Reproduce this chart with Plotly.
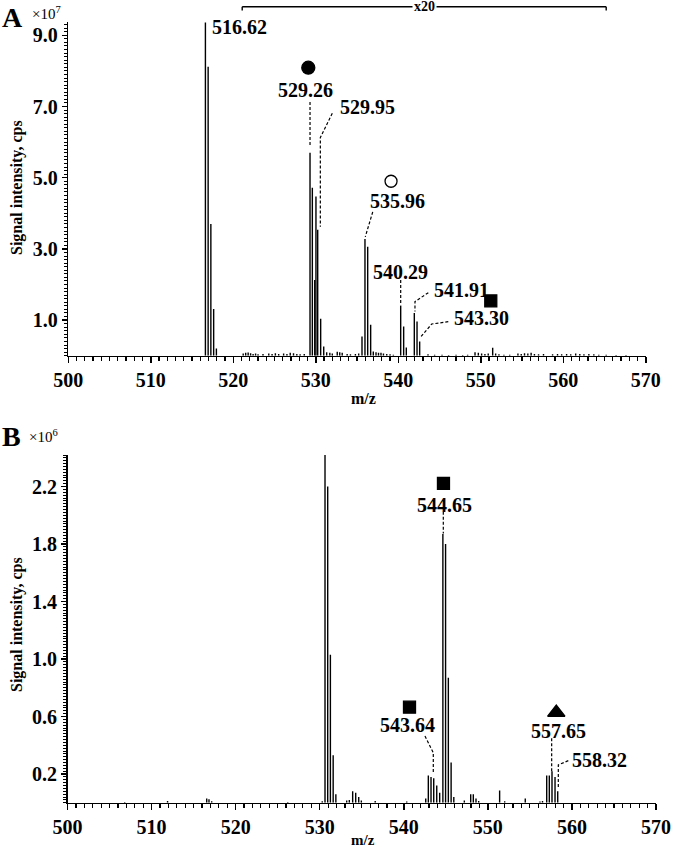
import plotly.graph_objects as go

# ---------------- Panel A data (intensity shown in units of 1e7 cps) ----------------
a_mz = [516.62, 516.95, 517.28, 517.62, 517.95,
        529.30, 529.58, 529.87, 530.02, 530.23, 530.59, 530.96, 531.32,
        535.60, 535.96, 536.29, 536.65, 536.97,
        540.29, 540.65, 540.97,
        541.94, 542.27, 542.59,
        551.44]
a_int = [9.36, 8.12, 3.70, 1.31, 0.20,
         5.70, 4.72, 2.13, 4.47, 3.54, 1.04, 0.26, 0.10,
         0.54, 3.28, 3.06, 0.87, 0.12,
         1.40, 0.82, 0.23,
         1.20, 0.96, 0.40,
         0.22]
a_noise_mz = [521.2, 521.5, 521.8, 522.1, 522.4, 522.7, 523.0, 523.6, 524.3, 524.7,
              525.1, 525.5, 526.1, 526.5, 526.9, 527.3, 527.7, 528.1, 528.6,
              531.7, 532.0, 532.6, 532.9, 533.2, 533.8, 534.2, 534.8, 535.2,
              537.3, 537.6, 537.9, 538.2, 538.6, 539.0, 539.4,
              543.6, 544.4, 545.3, 546.1, 547.0, 547.8, 548.4, 549.3, 549.7, 550.1, 550.5,
              550.9, 551.8, 552.2, 552.8, 553.5, 554.5, 554.9, 555.3, 555.7, 556.1, 556.5,
              557.0, 557.6, 558.7, 559.3, 559.8, 560.4, 560.9, 561.5, 562.0, 562.5, 563.1,
              563.7, 564.3, 565.2, 566.4, 567.6]
a_noise_int = [0.06, 0.08, 0.09, 0.07, 0.05, 0.06, 0.04, 0.05, 0.06, 0.05,
               0.07, 0.05, 0.06, 0.05, 0.08, 0.07, 0.05, 0.04, 0.05,
               0.08, 0.06, 0.11, 0.10, 0.08, 0.05, 0.04, 0.05, 0.06,
               0.10, 0.08, 0.08, 0.06, 0.05, 0.04, 0.03,
               0.04, 0.03, 0.03, 0.02, 0.03, 0.02, 0.03, 0.10, 0.08, 0.06, 0.05,
               0.06, 0.06, 0.04, 0.03, 0.03, 0.06, 0.05, 0.07, 0.06, 0.08, 0.05,
               0.04, 0.05, 0.04, 0.05, 0.04, 0.05, 0.04, 0.06, 0.05, 0.04, 0.05,
               0.04, 0.03, 0.03, 0.02, 0.02]

a_labels = ["516.62", "529.26", "529.95", "535.96", "540.29", "541.91", "543.30"]
a_label_x = [517.18, 528.80, 532.73, 539.96, 540.21, 544.05, 546.47]
a_label_y = [9.23, 7.47, 6.98, 4.35, 2.36, 1.85, 1.05]
a_label_anchor = ["left", "center", "left", "center", "center", "left", "left"]
a_leaders = [
    [(529.30, 7.13), (529.30, 5.87)],
    [(532.00, 6.81), (530.55, 6.13), (530.55, 3.62)],
    [(536.90, 4.04), (536.00, 3.34)],
    [(540.29, 2.13), (540.29, 1.42)],
    [(543.64, 1.77), (542.02, 1.52), (542.02, 1.24)],
    [(546.06, 0.955), (544.05, 0.89), (542.72, 0.53)],
]
a_sym_x = [529.09, 539.12, 551.21]
a_sym_y = [8.09, 4.90, 1.54]
a_sym = ["circle", "circle-open", "square"]
a_sym_size = [13, 12, 12]
zoom_range = [521.08, 565.2]

# ---------------- Panel B data (intensity shown in units of 1e6 cps) ----------------
b_mz = [530.63, 530.95, 531.27, 531.60, 531.92,
        542.61, 542.92, 543.24, 543.56, 543.92, 544.27,
        544.65, 544.97, 545.30, 545.63, 545.95,
        557.00, 557.31, 557.63, 557.99, 558.31,
        551.40, 554.45]
b_int = [2.42, 2.20, 1.03, 0.33, 0.06,
         0.03, 0.19, 0.18, 0.17, 0.12, 0.07,
         1.87, 1.80, 0.87, 0.28, 0.04,
         0.19, 0.19, 0.22, 0.18, 0.08,
         0.085, 0.03]
b_noise_mz = [506.8, 511.9, 516.56, 516.83, 517.15, 526.2, 530.30,
              533.21, 533.52, 533.92, 534.28, 534.64, 534.95, 536.6, 540.35,
              547.20, 547.96, 548.27, 548.59, 548.91, 552.0, 556.2, 556.5]
b_noise_int = [0.006, 0.012, 0.030, 0.025, 0.010, 0.006, 0.010,
               0.015, 0.020, 0.080, 0.070, 0.040, 0.015, 0.012, 0.008,
               0.015, 0.060, 0.060, 0.030, 0.012, 0.010, 0.008, 0.012]

b_labels = ["530.63", "544.65", "543.64", "557.65", "558.32"]
b_label_x = [530.43, 544.88, 540.42, 558.44, 559.77]
b_label_y = [2.489, 2.071, 0.541, 0.499, 0.297]
b_label_anchor = ["center", "center", "center", "center", "left"]
b_leaders = [
    [(544.70, 2.025), (544.70, 1.874)],
    [(542.52, 0.464), (543.51, 0.348), (543.51, 0.200)],
    [(557.59, 0.448), (557.59, 0.216)],
    [(559.57, 0.293), (558.38, 0.263), (558.38, 0.100)],
]
b_sym_x = [530.55, 544.72, 540.68, 558.14]
b_sym_y = [2.644, 2.222, 0.665, 0.628]
b_sym = ["circle", "square", "square", "triangle-up"]
b_sym_size = [13, 12, 12, 15]

FONT = "Liberation Serif"
W, H = 678, 849


def sticks(mz, inten):
    xs, ys = [], []
    for m, v in zip(mz, inten):
        xs += [m, m, None]
        ys += [0, v, None]
    return xs, ys


def leader_xy(leaders):
    xs, ys = [], []
    for seg in leaders:
        for (x, y) in seg:
            xs.append(x)
            ys.append(y)
        xs.append(None)
        ys.append(None)
    return xs, ys


fig = go.Figure()

for (mz, inten, nmz, nint, leaders, sx, sy, sym, ss, xa, ya) in [
    (a_mz, a_int, a_noise_mz, a_noise_int, a_leaders, a_sym_x, a_sym_y, a_sym, a_sym_size, "x", "y"),
    (b_mz, b_int, b_noise_mz, b_noise_int, b_leaders, b_sym_x, b_sym_y, b_sym, b_sym_size, "x2", "y2"),
]:
    xs, ys = sticks(nmz + mz, nint + inten)
    fig.add_trace(go.Scatter(x=xs, y=ys, mode="lines", xaxis=xa, yaxis=ya,
                             line=dict(color="black", width=1.4), hoverinfo="skip",
                             showlegend=False, cliponaxis=False))
    lx, ly = leader_xy(leaders)
    fig.add_trace(go.Scatter(x=lx, y=ly, mode="lines", xaxis=xa, yaxis=ya,
                             line=dict(color="black", width=1.2, dash="3px,2px"),
                             hoverinfo="skip", showlegend=False, cliponaxis=False))
    fig.add_trace(go.Scatter(x=sx, y=sy, mode="markers", xaxis=xa, yaxis=ya, opacity=1,
                             marker=dict(symbol=sym, size=ss, color="#000000", opacity=1,
                                         line=dict(color="#000000", width=1.3)),
                             hoverinfo="skip", showlegend=False, cliponaxis=False))

annotations = []
for labels, lxs, lys, anchors, xr, yr in [
    (a_labels, a_label_x, a_label_y, a_label_anchor, "x", "y"),
    (b_labels, b_label_x, b_label_y, b_label_anchor, "x2", "y2"),
]:
    for t, x, y, an in zip(labels, lxs, lys, anchors):
        annotations.append(dict(text=t, x=x, y=y, xref=xr, yref=yr, xanchor=an,
                                yanchor="middle", showarrow=False,
                                font=dict(family=FONT, size=20, color="black", weight="bold")))

# panel letters, exponents, axis titles
annotations += [
    dict(text="A", x=12.5 / W, y=1 - 17.5 / H, xref="paper", yref="paper", showarrow=False,
         xanchor="center", yanchor="middle",
         font=dict(family=FONT, size=28, color="black", weight="bold")),
    dict(text="B", x=11 / W, y=1 - 436.7 / H, xref="paper", yref="paper", showarrow=False,
         xanchor="center", yanchor="middle",
         font=dict(family=FONT, size=28, color="black", weight="bold")),
    dict(text="×10<sup>7</sup>", x=46 / W, y=1 - 13 / H, xref="paper", yref="paper",
         showarrow=False, xanchor="center", yanchor="middle",
         font=dict(family=FONT, size=15, color="black")),
    dict(text="×10<sup>6</sup>", x=43 / W, y=1 - 436 / H, xref="paper", yref="paper",
         showarrow=False, xanchor="center", yanchor="middle",
         font=dict(family=FONT, size=15, color="black")),
    dict(text="Signal intensity, cps", x=17 / W, y=1 - 188 / H, xref="paper", yref="paper",
         showarrow=False, textangle=-90, xanchor="center", yanchor="middle",
         font=dict(family=FONT, size=16, color="black", weight="bold")),
    dict(text="Signal intensity, cps", x=17 / W, y=1 - 625 / H, xref="paper", yref="paper",
         showarrow=False, textangle=-90, xanchor="center", yanchor="middle",
         font=dict(family=FONT, size=16, color="black", weight="bold")),
    dict(text="m/z", x=363 / W, y=1 - 398 / H, xref="paper", yref="paper", showarrow=False,
         xanchor="center", yanchor="middle",
         font=dict(family=FONT, size=16, color="black", weight="bold")),
    dict(text="m/z", x=363 / W, y=1 - 840 / H, xref="paper", yref="paper", showarrow=False,
         xanchor="center", yanchor="middle",
         font=dict(family=FONT, size=15, color="black", weight="bold")),
    dict(text="x20", x=(zoom_range[0] + zoom_range[1]) / 2, y=1 - 6.7 / H, xref="x", yref="paper",
         showarrow=False, xanchor="center", yanchor="middle", bgcolor="white", borderpad=1,
         font=dict(family=FONT, size=14, color="black", weight="bold")),
]

bracket_y = 1 - 6.7 / H
bracket_tick = 1 - 10.5 / H
shapes = [
    dict(type="line", xref="x", yref="paper", x0=zoom_range[0], x1=zoom_range[1],
         y0=bracket_y, y1=bracket_y, line=dict(color="black", width=1.4)),
    dict(type="line", xref="x", yref="paper", x0=zoom_range[0], x1=zoom_range[0],
         y0=bracket_y, y1=bracket_tick, line=dict(color="black", width=1.4)),
    dict(type="line", xref="x", yref="paper", x0=zoom_range[1], x1=zoom_range[1],
         y0=bracket_y, y1=bracket_tick, line=dict(color="black", width=1.4)),
]

tickfont = dict(family=FONT, size=20, color="black", weight="bold")
xcommon = dict(range=[500, 570], tickmode="linear", tick0=500, dtick=10, ticks="outside",
               ticklen=6, tickwidth=1.5, tickcolor="black", showline=True, linecolor="black",
               linewidth=1.6, showgrid=False, zeroline=False, tickfont=tickfont,
               automargin=False, fixedrange=True,
               minor=dict(dtick=1, ticklen=4, tickwidth=1.2, tickcolor="black", ticks="outside",
                          showgrid=False))
ycommon = dict(ticks="outside", ticklen=5, tickwidth=1.5, tickcolor="black", showline=True,
               linecolor="black", linewidth=1.6, showgrid=False, zeroline=False,
               tickfont=tickfont, tickformat=".1f", tickmode="linear", automargin=False,
               fixedrange=True)

fig.update_layout(
    width=W, height=H, margin=dict(l=0, r=0, t=0, b=0, pad=0, autoexpand=False),
    paper_bgcolor="white", plot_bgcolor="white", showlegend=False, hovermode=False,
    xaxis=dict(domain=[68.3 / W, 645.8 / W], anchor="y", **xcommon),
    yaxis=dict(domain=[1 - 355.7 / H, 1 - 22 / H], anchor="x", range=[0, 9.374],
               tick0=1, dtick=2,
               minor=dict(dtick=0.1, tick0=0, ticklen=3, tickwidth=1, tickcolor="black",
                          ticks="outside", showgrid=False),
               **ycommon),
    xaxis2=dict(domain=[67.5 / W, 656 / W], anchor="y2", **xcommon),
    yaxis2=dict(domain=[1 - 802.75 / H, 1 - 455 / H], anchor="x2", range=[0, 2.42],
                tick0=0.2, dtick=0.4,
                minor=dict(dtick=0.02, tick0=0, ticklen=3, tickwidth=1, tickcolor="black",
                           ticks="outside", showgrid=False),
                **ycommon),
    annotations=annotations, shapes=shapes,
)

fig.write_html(
    "out.html",
    config={"displayModeBar": False, "staticPlot": True},
    post_script=(
        "document.documentElement.style.margin='0';"
        "document.documentElement.style.padding='0';"
        "document.documentElement.style.overflow='hidden';"
        "document.body.style.margin='0';"
        "document.body.style.padding='0';"
        "document.body.style.overflow='hidden';"
    ),
)
